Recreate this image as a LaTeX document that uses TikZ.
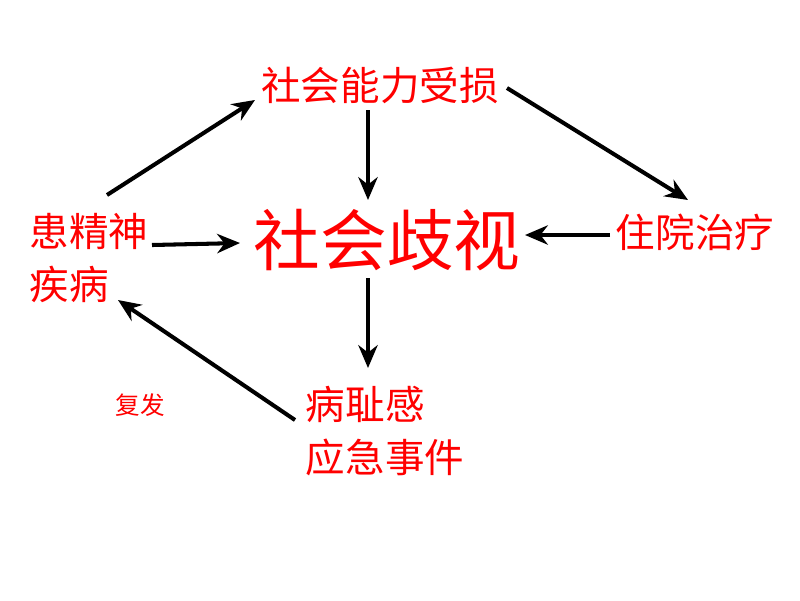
\documentclass[tikz,border=0pt]{standalone}
\usepackage{fontspec}
\newfontfamily\cjk{Noto Sans CJK SC}
\usetikzlibrary{arrows.meta, calc}
\begin{document}
\begin{tikzpicture}[
        x=0.02cm, y=-0.02cm,
        lbl/.style={text=red, font=\cjk\fontsize{22.5}{30}\selectfont, inner sep=2pt, align=left},
        big_lbl/.style={text=red, font=\cjk\fontsize{38}{44}\selectfont, inner sep=2pt},
        small_lbl/.style={text=red, font=\cjk\fontsize{14}{18}\selectfont},
        edge_style/.style={-{Stealth[length=13pt,width=11pt]}, line width=2.3pt, black}
    ]
    \useasboundingbox (0,0) rectangle (800,600);

    % Nodes
    \node[big_lbl] (bias) at (387,240) {社会歧视};
    \node[lbl] (loss) at (380,85) {社会能力受损};
    \node[lbl] (ill) at (89,258) {患精神\\疾病};
    \node[lbl] (hosp) at (695,232) {住院治疗};
    \node[lbl] (shame) at (385,431) {病耻感\\应急事件};
    \node[small_lbl] (relapse) at (140,405) {复发};

    % Edges
    \draw[edge_style] ($(ill)+(18,-63)$) -- ($(loss)+(-125,15)$);
    \draw[edge_style] ($(loss)+(-12,25)$) -- ($(bias)+(-19,-40)$);
    \draw[edge_style] ($(loss)+(127,3)$) -- ($(hosp)+(-7,-32)$);
    \draw[edge_style] ($(ill)+(63,-13)$) -- ($(bias)+(-147,3)$);
    \draw[edge_style] ($(hosp)+(-85,3)$) -- ($(bias)+(138,-5)$);
    \draw[edge_style] ($(bias)+(-19,38)$) -- ($(shame)+(-17,-63)$);
    \draw[edge_style] ($(shame)+(-90,-11)$) -- ($(ill)+(29,42)$);
\end{tikzpicture}
\end{document}
